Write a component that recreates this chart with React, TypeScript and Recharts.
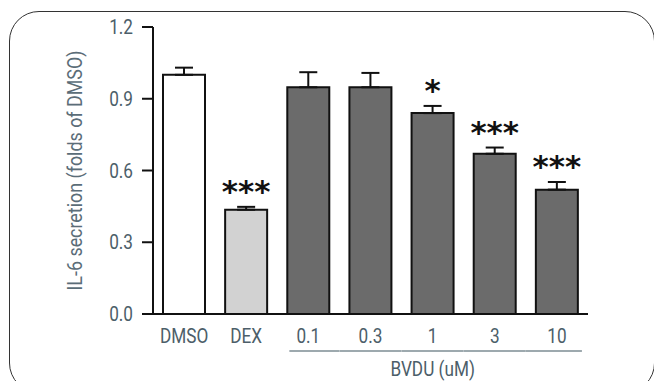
import { BarChart, Bar, XAxis, YAxis, Cell, ErrorBar, LabelList } from "recharts";

const categories = ["DMSO", "DEX", "0.1", "0.3", "1", "3", "10"];
const means = [1.0, 0.436, 0.948, 0.948, 0.84, 0.67, 0.52];
const errors = [0.03, 0.012, 0.063, 0.06, 0.03, 0.026, 0.032];
const stars = ["", "***", "", "", "*", "***", "***"];
const yTicks = [0, 0.3, 0.6, 0.9, 1.2];
const groupLabel = "BVDU (uM)";
const groupStart = "0.1";
const groupMid = "1";
const groupEnd = "10";

const FILLS: Record<string, string> = { DMSO: "#ffffff", DEX: "#d2d2d2" };
const BAR_GREY = "#6b6b6b";
const TEXT = "#4c5e69";
const FONT = "Roboto, sans-serif";
// the source uses a condensed face; squeeze Roboto horizontally
const SQUEEZE = 0.86;

function NarrowText({ x, y, anchor, size = 20, fill = TEXT, dy, children }: any) {
  return (
    <g transform={`translate(${x},${y}) scale(${SQUEEZE},1)`}>
      <text x={0} y={0} dy={dy} textAnchor={anchor} fill={fill} fontSize={size} fontFamily={FONT}>
        {children}
      </text>
    </g>
  );
}

const data = categories.map((name, i) => ({
  name,
  mean: means[i],
  err: [0, errors[i]],
  sig: stars[i],
}));

function XTick(props: any) {
  const { x, y, payload } = props;
  const v = payload.value as string;
  const inGroup = categories.indexOf(v) >= categories.indexOf(groupStart);
  return (
    <g>
      <NarrowText x={x} y={y + 29} anchor="middle">
        {v}
      </NarrowText>
      {inGroup && (
        <line
          x1={v === groupStart ? x - 19 : x - 31}
          x2={v === groupEnd ? x + 25 : x + 31}
          y1={y + 37}
          y2={y + 37}
          stroke="#7d8c93"
          strokeWidth={1.5}
        />
      )}
      {v === groupMid && (
        <NarrowText x={x} y={y + 62} anchor="middle">
          {groupLabel}
        </NarrowText>
      )}
    </g>
  );
}

function YTick(props: any) {
  const { x, y, payload } = props;
  return (
    <NarrowText x={x} y={y} dy="0.355em" anchor="end">
      {Number(payload.value).toFixed(1)}
    </NarrowText>
  );
}

function StarLabel(props: any) {
  const { x, y, width, height, index, value } = props;
  if (!value) return null;
  const pxPerUnit = height / means[index];
  const top = y - errors[index] * pxPerUnit;
  return (
    <text
      x={x + width / 2}
      y={top - 5}
      textAnchor="middle"
      fontSize={31}
      fontWeight="bold"
      fontFamily="'DejaVu Sans', sans-serif"
      fill="#111"
    >
      {value}
    </text>
  );
}

function YLabel(props: any) {
  const { viewBox } = props;
  const cx = viewBox.x + 82;
  const cy = viewBox.y + viewBox.height / 2;
  return (
    <text
      x={cx}
      y={cy}
      transform={`rotate(-90 ${cx} ${cy})`}
      textAnchor="middle"
      fill="#5b6d78"
      fontSize={20}
      fontFamily={FONT}
      textLength={240}
      lengthAdjust="spacingAndGlyphs"
    >
      IL-6 secretion (folds of DMSO)
    </text>
  );
}

export default function App() {
  return (
    <div style={{ position: "absolute", left: 0, top: 0, width: 654, height: 381, overflow: "hidden", background: "#fff" }}>
      <div
        style={{
          position: "absolute",
          left: 9,
          top: 11,
          width: 644,
          height: 380,
          border: "1.5px solid #333",
          borderRadius: 30,
        }}
      />
      <BarChart
        width={654}
        height={381}
        data={data}
        margin={{ top: 27, right: 66, bottom: 0, left: 0 }}
        style={{ position: "absolute", left: 0, top: 0 }}
      >
        <YAxis
          width={153}
          domain={[0, 1.2]}
          ticks={yTicks}
          tickSize={11}
          tickMargin={9}
          axisLine={{ stroke: "#111", strokeWidth: 2 }}
          tickLine={{ stroke: "#111", strokeWidth: 2 }}
          tick={<YTick />}
          label={<YLabel />}
        />
        <XAxis
          dataKey="name"
          height={67}
          tickLine={false}
          tickSize={0}
          tickMargin={0}
          axisLine={{ stroke: "#111", strokeWidth: 2 }}
          tick={<XTick />}
          interval={0}
        />
        <Bar dataKey="mean" barSize={42} stroke="#111" strokeWidth={2} isAnimationActive={false}>
          {data.map((d) => (
            <Cell key={d.name} fill={FILLS[d.name] ?? BAR_GREY} />
          ))}
          <ErrorBar dataKey="err" width={9} stroke="#111" strokeWidth={2} direction="y" />
          <LabelList dataKey="sig" content={<StarLabel />} />
        </Bar>
      </BarChart>
    </div>
  );
}
